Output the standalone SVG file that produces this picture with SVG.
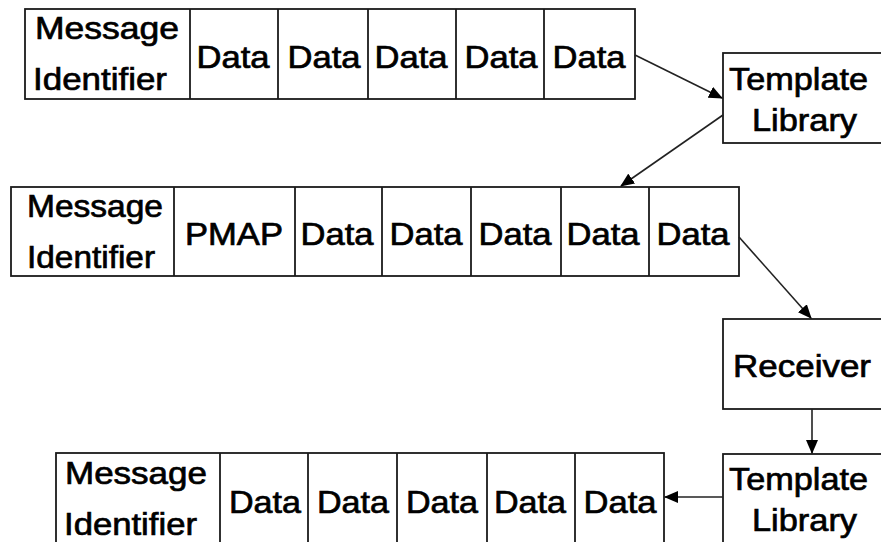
<svg xmlns="http://www.w3.org/2000/svg" width="881" height="542" viewBox="0 0 881 542">
<style>
.b{fill:#fff;stroke:#1a1a1a;stroke-width:1.8}
.d{stroke:#1a1a1a;stroke-width:1.8}
.t{font-family:"Liberation Sans",Arial,sans-serif;font-size:32px;fill:#000;stroke:#000;stroke-width:0.7}
.c{text-anchor:middle}
.w{stroke:#222;stroke-width:1.6;fill:none}
</style>
<defs>
<marker id="ah" markerUnits="userSpaceOnUse" markerWidth="14" markerHeight="12" refX="13" refY="6" orient="auto">
<path d="M0,0 L14,6 L0,12 z" fill="#000"/>
</marker>
</defs>
<rect width="881" height="542" fill="#fff"/>

<g id="row1">
<rect class="b" x="25" y="9" width="610" height="90"/>
<line class="d" x1="190" y1="9" x2="190" y2="99"/>
<line class="d" x1="278" y1="9" x2="278" y2="99"/>
<line class="d" x1="368" y1="9" x2="368" y2="99"/>
<line class="d" x1="456" y1="9" x2="456" y2="99"/>
<line class="d" x1="544" y1="9" x2="544" y2="99"/>
<text class="t" x="35" y="39" textLength="144" lengthAdjust="spacingAndGlyphs">Message</text>
<text class="t" x="33" y="90" textLength="134" lengthAdjust="spacingAndGlyphs">Identifier</text>
<text class="t c" x="233" y="68" textLength="73" lengthAdjust="spacingAndGlyphs">Data</text>
<text class="t c" x="324" y="68" textLength="73" lengthAdjust="spacingAndGlyphs">Data</text>
<text class="t c" x="411" y="68" textLength="73" lengthAdjust="spacingAndGlyphs">Data</text>
<text class="t c" x="501" y="68" textLength="73" lengthAdjust="spacingAndGlyphs">Data</text>
<text class="t c" x="589" y="68" textLength="73" lengthAdjust="spacingAndGlyphs">Data</text>
</g>

<g id="template1">
<rect class="b" x="723" y="53" width="190" height="90"/>
<text class="t" x="729" y="90" textLength="139" lengthAdjust="spacingAndGlyphs">Template</text>
<text class="t" x="752" y="131" textLength="105" lengthAdjust="spacingAndGlyphs">Library</text>
</g>

<g id="row2">
<rect class="b" x="11" y="187" width="728" height="89"/>
<line class="d" x1="174" y1="187" x2="174" y2="276"/>
<line class="d" x1="295" y1="187" x2="295" y2="276"/>
<line class="d" x1="382" y1="187" x2="382" y2="276"/>
<line class="d" x1="471" y1="187" x2="471" y2="276"/>
<line class="d" x1="561" y1="187" x2="561" y2="276"/>
<line class="d" x1="649" y1="187" x2="649" y2="276"/>
<text class="t" x="27" y="217" textLength="136" lengthAdjust="spacingAndGlyphs">Message</text>
<text class="t" x="27" y="268" textLength="128" lengthAdjust="spacingAndGlyphs">Identifier</text>
<text class="t c" x="234" y="245" textLength="98" lengthAdjust="spacingAndGlyphs">PMAP</text>
<text class="t c" x="337" y="245" textLength="73" lengthAdjust="spacingAndGlyphs">Data</text>
<text class="t c" x="426" y="245" textLength="73" lengthAdjust="spacingAndGlyphs">Data</text>
<text class="t c" x="515" y="245" textLength="73" lengthAdjust="spacingAndGlyphs">Data</text>
<text class="t c" x="603" y="245" textLength="73" lengthAdjust="spacingAndGlyphs">Data</text>
<text class="t c" x="693" y="245" textLength="73" lengthAdjust="spacingAndGlyphs">Data</text>
</g>

<g id="receiver">
<rect class="b" x="723" y="319" width="190" height="90"/>
<text class="t" x="733" y="377" textLength="138" lengthAdjust="spacingAndGlyphs">Receiver</text>
</g>

<g id="template2">
<rect class="b" x="723" y="454" width="190" height="110"/>
<text class="t" x="729" y="490" textLength="139" lengthAdjust="spacingAndGlyphs">Template</text>
<text class="t" x="752" y="531" textLength="105" lengthAdjust="spacingAndGlyphs">Library</text>
</g>

<g id="row3">
<rect class="b" x="56" y="453" width="608" height="110"/>
<line class="d" x1="220" y1="453" x2="220" y2="563"/>
<line class="d" x1="308" y1="453" x2="308" y2="563"/>
<line class="d" x1="397" y1="453" x2="397" y2="563" stroke-width="3"/>
<line class="d" x1="487" y1="453" x2="487" y2="563"/>
<line class="d" x1="575" y1="453" x2="575" y2="563"/>
<text class="t" x="65" y="484" textLength="142" lengthAdjust="spacingAndGlyphs">Message</text>
<text class="t" x="64" y="535" textLength="133" lengthAdjust="spacingAndGlyphs">Identifier</text>
<text class="t c" x="265" y="513" textLength="72" lengthAdjust="spacingAndGlyphs">Data</text>
<text class="t c" x="353" y="513" textLength="72" lengthAdjust="spacingAndGlyphs">Data</text>
<text class="t c" x="442" y="513" textLength="72" lengthAdjust="spacingAndGlyphs">Data</text>
<text class="t c" x="530" y="513" textLength="72" lengthAdjust="spacingAndGlyphs">Data</text>
<text class="t c" x="620" y="513" textLength="73" lengthAdjust="spacingAndGlyphs">Data</text>
</g>

<g id="connectors">
<line class="w" x1="635" y1="55" x2="722" y2="98" marker-end="url(#ah)"/>
<line class="w" x1="723" y1="115" x2="621" y2="186" marker-end="url(#ah)"/>
<line class="w" x1="739" y1="237" x2="811" y2="318" marker-end="url(#ah)"/>
<line class="w" x1="812" y1="409" x2="812" y2="453" marker-end="url(#ah)"/>
<line class="w" x1="723" y1="497" x2="665" y2="497" marker-end="url(#ah)"/>
</g>
</svg>
